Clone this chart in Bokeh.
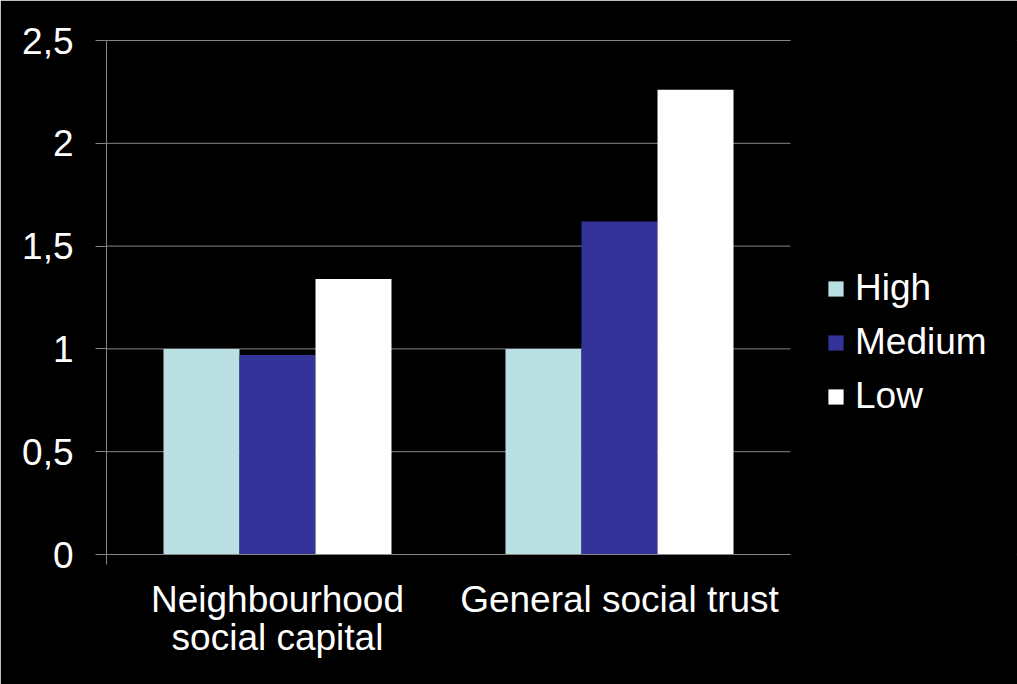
from bokeh.plotting import figure
from bokeh.models import (Range1d, FixedTicker, LinearAxis, Legend, LegendItem,
                          ColumnDataSource)
from bokeh.embed import file_html
from bokeh.resources import INLINE

categories = ["Neighbourhood\nsocial capital", "General social trust"]
series = ["High", "Medium", "Low"]
high = [1.0, 1.0]
medium = [0.97, 1.62]
low = [1.34, 2.26]
colors = ["#BBE0E3", "#333399", "#FFFFFF"]
y_ticks = [0, 0.5, 1, 1.5, 2, 2.5]
y_labels = ["0", "0,5", "1", "1,5", "2", "2,5"]

FONT = "Liberation Sans"
FS = "37px"
GRID = "#868686"

W, H = 1017, 684
LEFT, PLOT_RIGHT, TOP, BOTTOM = 106, 790, 40, 130
n = len(categories)
x_end = n * (W - LEFT) / (PLOT_RIGHT - LEFT)  # frame extends under the legend

p = figure(width=W, height=H, output_backend="svg", toolbar_location=None,
           x_range=Range1d(0, x_end), y_range=Range1d(0, y_ticks[-1]),
           x_axis_type=None, y_axis_type=None,
           min_border_left=LEFT, min_border_right=0,
           min_border_top=TOP, min_border_bottom=BOTTOM)
p.background_fill_color = "black"
p.border_fill_color = "black"
p.outline_line_color = "black"
p.xgrid.visible = False
p.ygrid.visible = False

values = [high, medium, low]
max_val = max(max(v) for v in values)

# horizontal grid lines limited to the category area (behind the bars)
p.segment(x0=[0] * len(y_ticks), x1=[n] * len(y_ticks), y0=y_ticks, y1=y_ticks,
          line_color=GRID, line_width=1)
# grid lines above every bar are redrawn on top so the frame edge cannot hide them
top_ticks = [t for t in y_ticks if t > max_val]
p.segment(x0=[0] * len(top_ticks), x1=[n] * len(top_ticks), y0=top_ticks, y1=top_ticks,
          line_color=GRID, line_width=1, level="overlay")

centers = [i + 0.5 for i in range(n)]
bw = 2.0 / 9.0
renderers = []
for k, (name, vals, col) in enumerate(zip(series, values, colors)):
    xs = [c + (k - 1) * bw for c in centers]
    src = ColumnDataSource(dict(x=xs, top=vals))
    r = p.vbar(x="x", top="top", width=bw, bottom=0, source=src,
               fill_color=col, line_color=None)
    renderers.append((name, r))

# y axis
yaxis = LinearAxis(ticker=FixedTicker(ticks=y_ticks, minor_ticks=[]))
yaxis.major_label_overrides = {t: l for t, l in zip(y_ticks, y_labels)}
yaxis.axis_line_color = GRID
yaxis.major_tick_line_color = GRID
yaxis.major_tick_out = 11
yaxis.major_tick_in = 0
yaxis.minor_tick_line_color = None
yaxis.major_label_standoff = 22
yaxis.major_label_text_font = FONT
yaxis.major_label_text_font_size = FS
yaxis.major_label_text_color = "white"
p.add_layout(yaxis, "left")

# x axis
xaxis = LinearAxis(ticker=FixedTicker(ticks=centers, minor_ticks=[0]), bounds=(0, n))
xaxis.major_label_overrides = {c: lab for c, lab in zip(centers, categories)}
xaxis.axis_line_color = GRID
xaxis.major_tick_line_color = None
xaxis.major_tick_out = 0
xaxis.major_tick_in = 0
xaxis.minor_tick_line_color = GRID
xaxis.minor_tick_out = 10
xaxis.minor_tick_in = 0
xaxis.major_label_standoff = 14
xaxis.major_label_text_font = FONT
xaxis.major_label_text_font_size = FS
xaxis.major_label_text_color = "white"
xaxis.major_label_text_line_height = 0.94
p.add_layout(xaxis, "below")

legend = Legend(items=[LegendItem(label=nm, renderers=[r]) for nm, r in renderers],
                location=(720, 131))
legend.background_fill_alpha = 0
legend.border_line_color = None
legend.label_text_color = "white"
legend.label_text_font = FONT
legend.label_text_font_size = FS
legend.glyph_width = 19
legend.glyph_height = 19
legend.label_height = 54
legend.spacing = 0
legend.padding = 0
legend.margin = 0
legend.label_standoff = 10
p.add_layout(legend, "center")

open("out.html", "w").write(file_html(p, INLINE))
